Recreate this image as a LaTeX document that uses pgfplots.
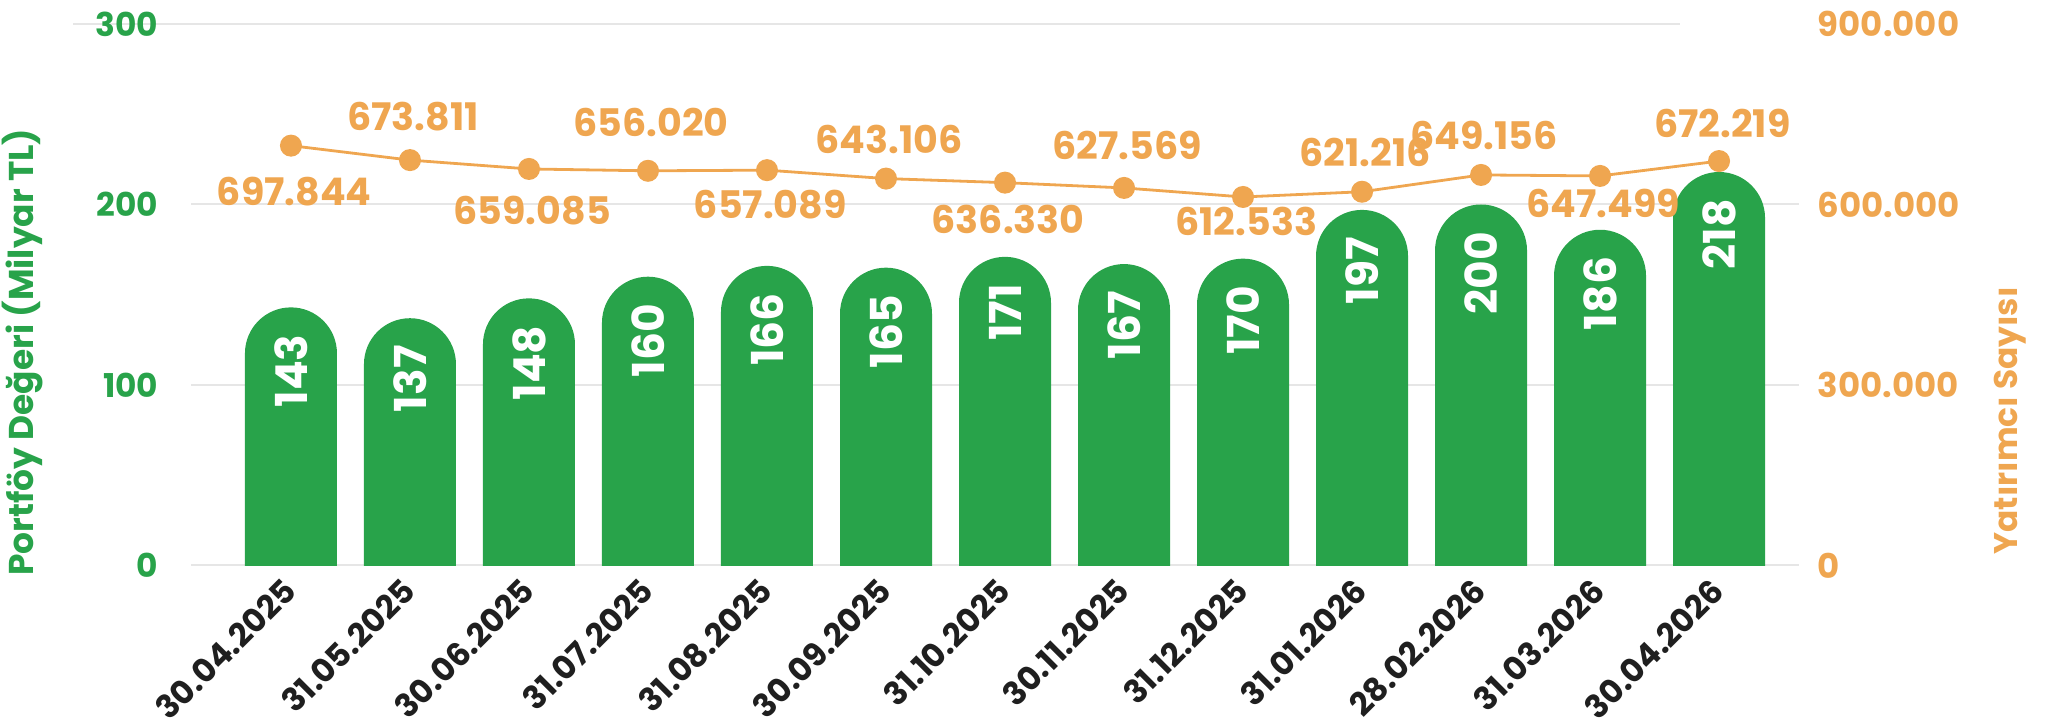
\documentclass[border=0pt]{standalone}
\usepackage{fontspec}
\setmainfont{Poppins}
\usepackage{pgfplots}
\usepackage{pgfplotstable}
\pgfplotsset{compat=1.18}
\definecolor{barGreen}{HTML}{28A34A}
\definecolor{lineOrange}{HTML}{EFA650}
\definecolor{gridGray}{HTML}{E6E6E6}
\definecolor{tickDark}{HTML}{1F1F1F}

\pgfdeclareplotmark{pill}{%
  \pgfpathmoveto{\pgfqpoint{-11.5pt}{-400pt}}%
  \pgfpathlineto{\pgfqpoint{-11.5pt}{-11.5pt}}%
  \pgfpatharc{180}{0}{11.5pt}%
  \pgfpathlineto{\pgfqpoint{11.5pt}{-400pt}}%
  \pgfpathclose
  \pgfusepathqfill}

\pgfplotstableread{
x bar blab
0 143 143
1 137 137
2 148 148
3 160 160
4 166 166
5 165 165
6 171 171
7 167 167
8 170 170
9 197 197
10 200 200
11 186 186
12 218 218
}\bardata

% investors, label text, label centre height (same units)
\pgfplotstableread{
x inv lab ly
0 697844 697.844 620757
1 673811 673.811 745407
2 659085 659.085 590010
3 656020 656.020 737097
4 657089 657.089 599151
5 643106 643.106 708843
6 636330 636.330 575883
7 627569 627.569 698040
8 612533 612.533 571396
9 621216 621.216 687237
10 649156 649.156 715491
11 647499 647.499 602475
12 672219 672.219 735435
}\invdata

\begin{document}
\begin{tikzpicture}
\useasboundingbox (-47.75pt,-40.125pt) rectangle (465.25pt,141.375pt);
\draw[gridGray, line width=0.5pt] (-29.5pt,135.375pt) -- (372.25pt,135.375pt);
\begin{axis}[
  name=ax, at={(0,0)}, anchor=south west,
  scale only axis, width=402pt, height=135.375pt,
  xmin=-0.84, xmax=12.672, ymin=0, ymax=300,
  axis line style={draw=none}, major tick length=0pt,
  xtick={0,1,2,3,4,5,6,7,8,9,10,11,12},
  xticklabels={30.04.2025,31.05.2025,30.06.2025,31.07.2025,31.08.2025,30.09.2025,31.10.2025,30.11.2025,31.12.2025,31.01.2026,28.02.2026,31.03.2026,30.04.2026},
  xticklabel style={font=\bfseries\fontsize{8.1}{10}\selectfont, text=tickDark, inner sep=0pt, xshift=-2.5pt, yshift=-2.5pt, rotate=45, anchor=north east},
  ytick={0,100,200}, yticklabels={0,100,200},
  extra y ticks={300}, extra y tick labels={300}, extra y tick style={grid=none},
  ymajorgrids, grid style={gridGray, line width=0.5pt},
  yticklabel style={font=\bfseries\fontsize{8.2}{10}\selectfont, text=barGreen, inner sep=0pt, xshift=-8pt},
  ylabel={Portföy Değeri (Milyar TL)},
  every axis y label/.style={at={(axis description cs:-0.1047,0.394)}, anchor=center, rotate=90, font=\bfseries\fontsize{8.6}{10}\selectfont, text=barGreen},
  clip marker paths=true,
]
\addplot[only marks, mark=pill, mark options={fill=barGreen, draw=none},
  nodes near coords, point meta=explicit symbolic,
  every node near coord/.append style={anchor=east, rotate=90, inner xsep=6.6pt, inner ysep=0pt, text=white, font=\bfseries\fontsize{11}{13}\selectfont}]
  table[x=x, y=bar, meta=blab] {\bardata};
\end{axis}
\begin{axis}[
  at={(0,0)}, anchor=south west,
  scale only axis, width=402pt, height=135.375pt,
  xmin=-0.84, xmax=12.672, ymin=0, ymax=900000,
  axis x line=none, axis y line*=right, axis line style={draw=none}, major tick length=0pt,
  scaled y ticks=false,
  ytick={0,300000,600000,900000}, yticklabels={0,300.000,600.000,900.000},
  yticklabel style={font=\bfseries\fontsize{8.5}{10}\selectfont, text=lineOrange, inner sep=0pt, xshift=4.5pt},
  ylabel={Yatırımcı Sayısı},
  every axis y label/.style={at={(axis description cs:1.131,0.267)}, anchor=center, rotate=90, font=\bfseries\fontsize{8.2}{10}\selectfont, text=lineOrange},
  clip=false,
]
\addplot[lineOrange, line width=0.7pt, mark=*, mark size=2.4pt, mark options={fill=lineOrange, draw=none}]
  table[x=x, y=inv] {\invdata};
\addplot[draw=none, mark=none, nodes near coords, point meta=explicit symbolic,
  every node near coord/.append style={anchor=center, inner sep=0pt, xshift=0.8pt, text=lineOrange, font=\bfseries\fontsize{9.5}{11}\selectfont}]
  table[x=x, y=ly, meta=lab] {\invdata};
\end{axis}
\end{tikzpicture}
\end{document}
